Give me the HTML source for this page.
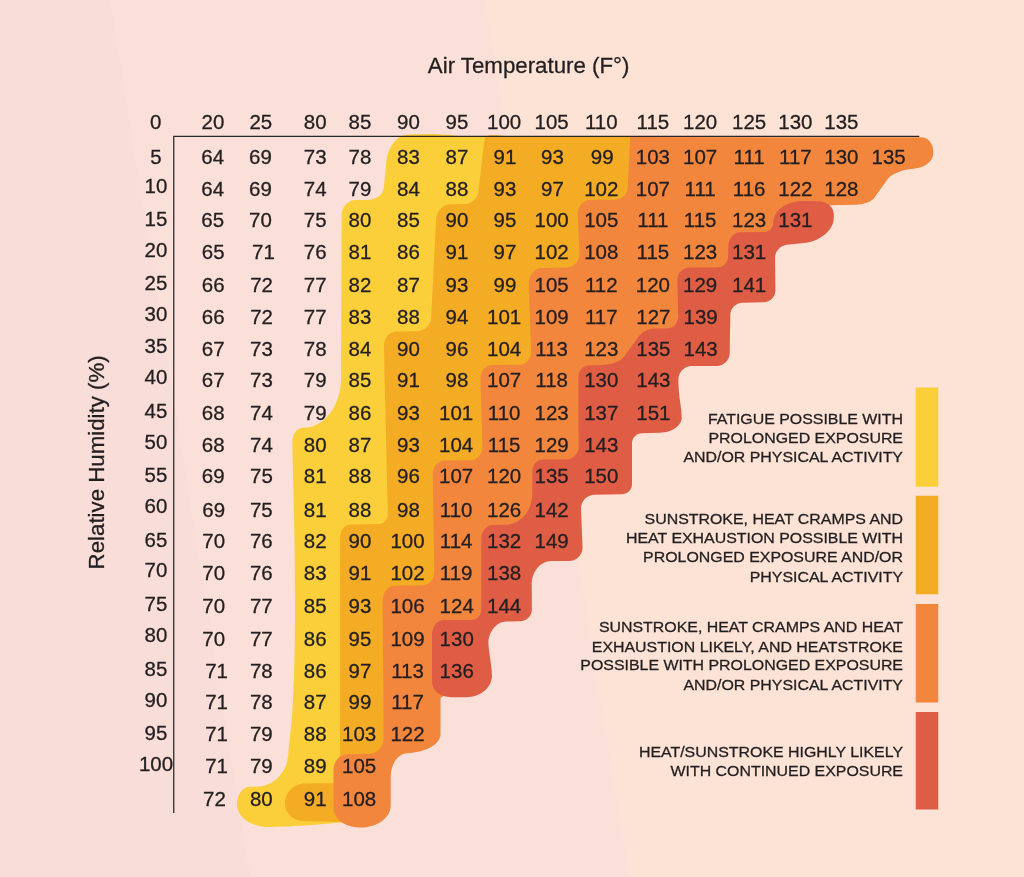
<!DOCTYPE html>
<html lang="en">
<head>
<meta charset="utf-8">
<title>Heat Index Chart</title>
<style>
html,body{margin:0;padding:0;background:#FBDFD9;}
body{width:1024px;height:877px;overflow:hidden;}
svg{display:block;}
text{font-family:"Liberation Sans",Arial,Helvetica,sans-serif;fill:#231F20;stroke:#231F20;stroke-width:0.3px;}
.n{font-size:20.5px;text-anchor:middle;}
.t{font-size:22.28px;text-anchor:middle;}
.l{font-size:15.92px;text-anchor:end;}
</style>
</head>
<body>
<svg xmlns="http://www.w3.org/2000/svg" width="1024" height="877" viewBox="0 0 1024 877">
<rect width="1024" height="877" fill="#FAE0D9"/><polygon points="0,0 110,0 250,877 0,877" fill="#F9DDD8"/><polygon points="484.8,0 1024,0 1024,877 630,877" fill="#FCE3D6"/>
<path fill="#FBCF3A" d="M500.0 136.6L463.0 136.6L453.9 135.4C447.2 134.6 436.7 134.0 430.0 134.0L426.0 134.1C421.5 134.2 414.5 134.4 410.0 134.6L407.0 134.7C396.9 135.2 387.9 147.0 386.4 161.5L383.8 187.8C383.1 194.4 376.4 199.8 368.6 199.9L355.6 200.1C347.8 200.2 341.6 206.9 341.6 215.3L341.1 377.5C341.1 405.5 324.7 427.6 304.0 427.7L303.0 427.7C296.8 427.8 292.1 434.4 292.3 442.8L294.1 520.0C294.6 542.4 295.0 577.6 295.0 600.0L295.0 620.0C295.0 642.4 294.1 677.6 293.0 700.0L293.0 700.0C292.4 711.2 291.0 728.7 289.7 739.9L289.0 746.0C288.7 748.3 288.4 751.8 288.3 754.0L288.2 754.6C287.3 772.5 273.3 786.7 256.5 786.7L250.0 786.7C242.7 786.8 237.0 794.3 237.0 803.8L237.0 804.2C237.0 817.6 252.0 827.7 271.0 827.0L285.0 826.5C293.4 826.2 306.6 825.4 314.9 824.7L350.0 821.8L350.0 540.0L400.0 540.0L400.0 345.0L450.0 345.0L450.0 220.0L500.0 220.0Z"/>
<path fill="#F4AC25" d="M640.0 136.4L506.0 136.4L502.0 135.7C500.3 135.4 497.7 135.2 496.0 135.2L490.0 135.2C487.2 135.2 484.7 137.4 484.4 140.2L478.4 191.8C477.6 198.5 471.7 203.8 465.0 204.0L449.8 204.3C442.5 204.5 436.5 211.2 436.1 219.6L431.1 318.0C430.8 325.3 424.3 331.1 416.5 331.2L396.5 331.4C389.2 331.5 383.7 338.2 383.9 346.6L387.8 514.0C387.9 519.6 383.6 524.1 378.0 524.1L351.0 524.5C344.8 524.5 340.0 530.3 340.0 537.6L340.0 783.0L305.0 783.4C293.8 783.5 285.0 792.4 285.0 803.6L285.0 804.0C285.0 813.5 293.8 821.1 305.0 821.3L345.0 822.0L345.0 768.0L386.0 768.0L386.0 740.0L395.0 740.0L395.0 600.0L445.0 600.0L445.0 472.0L495.0 472.0L495.0 377.0L540.0 377.0L540.0 283.0L590.0 283.0L590.0 215.0L640.0 215.0Z"/>
<path fill="#F2863D" d="M640.0 137.0L630.3 137.0L627.6 188.5C627.3 194.7 621.7 199.6 615.0 199.7L590.0 200.0C582.7 200.1 577.3 206.8 577.7 215.2L579.4 253.5C579.7 261.3 573.8 267.6 566.0 267.6L542.3 267.9C534.5 267.9 528.5 275.0 528.8 284.0L531.1 351.5C531.3 358.8 526.2 364.6 519.5 364.7L492.0 365.0C485.3 365.1 480.2 371.4 480.4 379.2L482.4 446.0C482.6 453.8 477.5 460.1 470.8 460.2L444.5 460.6C437.8 460.7 432.6 467.0 432.7 474.8L434.3 572.0C434.4 579.3 429.2 585.1 422.5 585.2L394.5 585.8C387.8 585.9 382.6 592.6 382.6 601.0L383.7 737.5C383.7 746.5 377.6 753.6 369.8 753.8L347.4 754.2C339.6 754.4 333.4 761.5 333.4 770.5L333.5 807.6C333.6 818.8 345.0 827.6 359.6 827.5L360.6 827.5C377.4 827.4 390.6 817.7 390.7 805.4L390.7 776.5C390.8 764.2 397.8 753.9 406.7 753.2L410.6 752.9C427.3 751.6 440.5 743.5 440.5 734.5L440.5 698.0L460.0 685.0L460.0 630.0L500.0 610.0L500.0 570.0L550.0 550.0L550.0 500.0L600.0 480.0L600.0 440.0L650.0 420.0L650.0 350.0L700.0 340.0L700.0 280.0L750.0 255.0L750.0 240.0L800.0 225.0L810.0 210.0L830.0 205.2L855.5 204.7C863.3 204.5 871.6 201.5 874.2 197.9L887.7 179.1C890.9 174.6 900.5 170.2 909.4 169.2L915.3 168.5C925.3 167.4 933.2 160.8 933.2 153.5L933.2 151.3C933.2 143.5 927.9 137.3 921.2 137.3Z"/>
<path fill="#E05D45" d="M773.1 222.8C773.3 210.5 786.7 201.0 803.5 201.1L818.0 201.3C827.0 201.4 833.9 207.2 833.8 214.5L833.8 218.0C833.6 230.3 820.4 241.3 803.7 243.1L786.9 244.8C780.3 245.5 775.0 251.3 775.1 258.0L775.4 290.0C775.5 296.7 770.2 302.1 763.5 302.3L742.5 302.7C735.8 302.9 730.4 308.3 730.3 315.0L729.7 353.0C729.6 360.3 723.8 366.0 716.5 366.1L692.0 366.1C684.2 366.2 678.2 372.4 678.4 380.2L678.4 382.0C678.5 386.5 679.0 393.5 679.6 397.9L680.8 407.1C681.4 411.5 681.8 418.5 681.8 423.0L681.8 417.3C681.8 425.7 672.1 432.5 659.8 432.8L642.0 433.3C636.4 433.4 632.0 437.9 632.0 443.5L632.0 484.0C632.0 489.6 627.6 494.1 622.0 494.2L594.5 494.7C586.7 494.9 580.7 501.2 581.0 509.0L582.5 547.0C582.8 554.8 576.8 561.0 569.0 561.1L551.5 561.1C540.3 561.2 531.6 571.8 531.7 585.2L531.9 609.0C532.0 615.7 526.7 621.1 520.0 621.3L506.5 621.6C496.4 621.8 488.4 631.7 488.3 644.0L488.4 639.0C488.3 642.4 488.7 647.6 489.1 650.9L491.2 666.1C491.6 669.4 492.0 674.6 492.0 678.0L492.0 675.3C492.0 687.6 480.6 697.3 466.0 697.2L451.0 697.2C440.4 697.1 432.0 690.5 432.0 682.1L432.0 635.0C432.0 626.6 437.3 620.0 444.0 620.0L471.2 620.0C476.9 620.0 481.2 615.6 481.2 610.0L481.2 539.0C481.2 531.2 486.5 524.9 493.2 524.9L505.0 524.8C520.1 524.6 532.1 511.3 532.2 494.5L532.4 470.5C532.5 464.3 537.3 459.5 543.5 459.5L565.8 459.5C573.0 459.5 578.7 453.8 578.7 446.5L578.3 377.0C578.3 370.3 583.5 365.1 590.2 365.2L597.6 365.3C608.8 365.5 620.2 362.1 623.4 357.6L638.6 336.6C641.8 332.1 648.8 328.5 654.4 328.5L666.5 328.5C673.2 328.5 678.4 323.2 678.2 316.5L677.3 280.5C677.1 273.2 682.7 267.5 690.0 267.5L716.8 267.5C723.0 267.5 727.9 262.7 728.1 256.5L728.4 245.3C728.6 238.0 734.0 232.3 740.7 232.2L764.0 232.1C769.0 232.0 773.1 228.0 773.1 223.0Z"/>
<path d="M173.75 813V136.25H919.3" fill="none" stroke="#2b2728" stroke-width="1.25"/>
<text class="t" x="528.6" y="73.3">Air Temperature (F°)</text>
<text class="t" transform="translate(104 462.4) rotate(-90)">Relative Humidity (%)</text>
<g class="n" transform="scale(1 1.020)">
<text x="155.8" y="126.42">0</text>
<text x="213.0" y="126.42">20</text>
<text x="260.8" y="126.42">25</text>
<text x="315.2" y="126.42">80</text>
<text x="360.0" y="126.42">85</text>
<text x="408.4" y="126.42">90</text>
<text x="457.0" y="126.42">95</text>
<text x="504.1" y="126.42">100</text>
<text x="551.6" y="126.42">105</text>
<text x="601.3" y="126.42">110</text>
<text x="652.9" y="126.42">115</text>
<text x="700.1" y="126.42">120</text>
<text x="749.1" y="126.42">125</text>
<text x="795.4" y="126.42">130</text>
<text x="841.4" y="126.42">135</text>
<text x="156.0" y="160.34">5</text>
<text x="212.7" y="160.34">64</text>
<text x="260.5" y="160.34">69</text>
<text x="315.2" y="160.34">73</text>
<text x="360.0" y="160.34">78</text>
<text x="408.4" y="160.34">83</text>
<text x="457.0" y="160.34">87</text>
<text x="505.0" y="160.34">91</text>
<text x="552.5" y="160.34">93</text>
<text x="602.2" y="160.34">99</text>
<text x="652.9" y="160.34">103</text>
<text x="700.1" y="160.34">107</text>
<text x="749.1" y="160.34">111</text>
<text x="795.4" y="160.34">117</text>
<text x="841.4" y="160.34">130</text>
<text x="888.6" y="160.34">135</text>
<text x="156.0" y="189.51">10</text>
<text x="212.7" y="191.96">64</text>
<text x="260.5" y="191.96">69</text>
<text x="315.2" y="191.96">74</text>
<text x="360.0" y="191.96">79</text>
<text x="408.4" y="191.96">84</text>
<text x="457.0" y="191.96">88</text>
<text x="505.0" y="191.96">93</text>
<text x="552.5" y="191.96">97</text>
<text x="601.3" y="191.96">102</text>
<text x="652.9" y="191.96">107</text>
<text x="700.1" y="191.96">111</text>
<text x="749.1" y="191.96">116</text>
<text x="795.4" y="191.96">122</text>
<text x="841.4" y="191.96">128</text>
<text x="156.0" y="221.86">15</text>
<text x="212.7" y="222.16">65</text>
<text x="260.5" y="222.16">70</text>
<text x="315.2" y="222.16">75</text>
<text x="360.0" y="222.16">80</text>
<text x="408.4" y="222.16">85</text>
<text x="457.0" y="222.16">90</text>
<text x="505.0" y="222.16">95</text>
<text x="551.6" y="222.16">100</text>
<text x="601.3" y="222.16">105</text>
<text x="652.9" y="222.16">111</text>
<text x="700.1" y="222.16">115</text>
<text x="749.1" y="222.16">123</text>
<text x="795.4" y="222.16">131</text>
<text x="156.0" y="252.01">20</text>
<text x="213.2" y="253.82">65</text>
<text x="263.4" y="253.82">71</text>
<text x="315.2" y="253.82">76</text>
<text x="360.0" y="253.82">81</text>
<text x="408.4" y="253.82">86</text>
<text x="457.0" y="253.82">91</text>
<text x="505.0" y="253.82">97</text>
<text x="551.6" y="253.82">102</text>
<text x="601.3" y="253.82">108</text>
<text x="652.9" y="253.82">115</text>
<text x="700.1" y="253.82">123</text>
<text x="749.1" y="253.82">131</text>
<text x="156.0" y="284.71">25</text>
<text x="213.2" y="285.83">66</text>
<text x="261.6" y="285.83">72</text>
<text x="315.2" y="285.83">77</text>
<text x="360.0" y="285.83">82</text>
<text x="408.4" y="285.83">87</text>
<text x="457.0" y="285.83">93</text>
<text x="505.0" y="285.83">99</text>
<text x="551.6" y="285.83">105</text>
<text x="601.3" y="285.83">112</text>
<text x="652.9" y="285.83">120</text>
<text x="700.1" y="285.83">129</text>
<text x="749.1" y="285.83">141</text>
<text x="156.0" y="314.51">30</text>
<text x="213.2" y="317.45">66</text>
<text x="261.6" y="317.45">72</text>
<text x="315.2" y="317.45">77</text>
<text x="360.0" y="317.45">83</text>
<text x="408.4" y="317.45">88</text>
<text x="457.0" y="317.45">94</text>
<text x="504.1" y="317.45">101</text>
<text x="551.6" y="317.45">109</text>
<text x="601.3" y="317.45">117</text>
<text x="653.4" y="317.45">127</text>
<text x="700.6" y="317.45">139</text>
<text x="156.0" y="345.88">35</text>
<text x="213.2" y="349.31">67</text>
<text x="261.5" y="349.31">73</text>
<text x="315.2" y="349.31">78</text>
<text x="360.0" y="349.31">84</text>
<text x="408.4" y="349.31">90</text>
<text x="457.0" y="349.31">96</text>
<text x="504.1" y="349.31">104</text>
<text x="551.6" y="349.31">113</text>
<text x="601.3" y="349.31">123</text>
<text x="653.4" y="349.31">135</text>
<text x="700.6" y="349.31">143</text>
<text x="156.0" y="376.37">40</text>
<text x="213.2" y="379.51">67</text>
<text x="261.5" y="379.51">73</text>
<text x="315.2" y="379.51">79</text>
<text x="360.0" y="379.51">85</text>
<text x="408.4" y="379.51">91</text>
<text x="457.0" y="379.51">98</text>
<text x="504.1" y="379.51">107</text>
<text x="551.6" y="379.51">118</text>
<text x="601.3" y="379.51">130</text>
<text x="653.4" y="379.51">143</text>
<text x="156.0" y="409.75">45</text>
<text x="213.2" y="412.01">68</text>
<text x="261.5" y="412.01">74</text>
<text x="315.2" y="412.01">79</text>
<text x="360.0" y="412.01">86</text>
<text x="408.4" y="412.01">93</text>
<text x="456.1" y="412.01">101</text>
<text x="504.1" y="412.01">110</text>
<text x="551.6" y="412.01">123</text>
<text x="601.3" y="412.01">137</text>
<text x="653.4" y="412.01">151</text>
<text x="156.0" y="440.25">50</text>
<text x="213.2" y="442.70">68</text>
<text x="261.5" y="442.70">74</text>
<text x="315.2" y="442.70">80</text>
<text x="360.0" y="442.70">87</text>
<text x="408.4" y="442.70">93</text>
<text x="456.1" y="442.70">104</text>
<text x="504.1" y="442.70">115</text>
<text x="551.6" y="442.70">129</text>
<text x="601.3" y="442.70">143</text>
<text x="156.0" y="472.60">55</text>
<text x="213.2" y="473.33">69</text>
<text x="261.5" y="473.33">75</text>
<text x="315.2" y="473.33">81</text>
<text x="360.0" y="473.33">88</text>
<text x="408.4" y="473.33">96</text>
<text x="456.1" y="473.33">107</text>
<text x="504.1" y="473.33">120</text>
<text x="551.6" y="473.33">135</text>
<text x="601.3" y="473.33">150</text>
<text x="156.0" y="503.38">60</text>
<text x="213.7" y="506.72">69</text>
<text x="261.3" y="506.72">75</text>
<text x="315.2" y="506.72">81</text>
<text x="360.0" y="506.72">88</text>
<text x="408.4" y="506.72">98</text>
<text x="456.1" y="506.72">110</text>
<text x="504.1" y="506.72">126</text>
<text x="551.6" y="506.72">142</text>
<text x="156.0" y="536.03">65</text>
<text x="213.7" y="537.35">70</text>
<text x="261.3" y="537.35">76</text>
<text x="315.2" y="537.35">82</text>
<text x="360.0" y="537.35">90</text>
<text x="407.5" y="537.35">100</text>
<text x="456.1" y="537.35">114</text>
<text x="504.1" y="537.35">132</text>
<text x="551.6" y="537.35">149</text>
<text x="156.0" y="565.93">70</text>
<text x="213.7" y="568.48">70</text>
<text x="261.3" y="568.48">76</text>
<text x="315.2" y="568.48">83</text>
<text x="360.0" y="568.48">91</text>
<text x="407.5" y="568.48">102</text>
<text x="456.1" y="568.48">119</text>
<text x="504.1" y="568.48">138</text>
<text x="156.0" y="598.63">75</text>
<text x="213.7" y="601.08">70</text>
<text x="261.3" y="601.08">77</text>
<text x="315.2" y="601.08">85</text>
<text x="360.0" y="601.08">93</text>
<text x="407.5" y="601.08">106</text>
<text x="456.7" y="601.08">124</text>
<text x="504.1" y="601.08">144</text>
<text x="156.0" y="629.12">80</text>
<text x="213.7" y="633.19">70</text>
<text x="261.3" y="633.19">77</text>
<text x="315.2" y="633.19">86</text>
<text x="360.0" y="633.19">95</text>
<text x="407.5" y="633.19">109</text>
<text x="456.7" y="633.19">130</text>
<text x="156.0" y="663.09">85</text>
<text x="216.6" y="664.56">71</text>
<text x="261.3" y="664.56">78</text>
<text x="315.2" y="664.56">86</text>
<text x="360.0" y="664.56">97</text>
<text x="407.5" y="664.56">113</text>
<text x="456.7" y="664.56">136</text>
<text x="156.0" y="692.70">90</text>
<text x="216.6" y="695.54">71</text>
<text x="261.3" y="695.54">78</text>
<text x="315.2" y="695.54">87</text>
<text x="360.0" y="695.54">99</text>
<text x="407.5" y="695.54">117</text>
<text x="156.0" y="725.54">95</text>
<text x="216.6" y="726.27">71</text>
<text x="261.3" y="726.27">79</text>
<text x="315.2" y="726.27">88</text>
<text x="359.1" y="726.27">103</text>
<text x="407.5" y="726.27">122</text>
<text x="156.0" y="755.44">100</text>
<text x="216.6" y="758.14">71</text>
<text x="261.3" y="758.14">79</text>
<text x="315.2" y="758.14">89</text>
<text x="359.1" y="758.14">105</text>
<text x="214.5" y="790.49">72</text>
<text x="261.3" y="790.49">80</text>
<text x="315.2" y="790.49">91</text>
<text x="359.1" y="790.49">108</text>
</g>
<rect x="915.75" y="387.50" width="22.5" height="99.25" fill="#FBCF3A"/>
<rect x="915.75" y="495.75" width="22.5" height="98.50" fill="#F4AC25"/>
<rect x="915.75" y="604.00" width="22.5" height="98.50" fill="#F2863D"/>
<rect x="915.75" y="712.00" width="22.5" height="97.50" fill="#E05D45"/>
<g class="l" transform="scale(1 0.950)">
<text x="903" y="446.11">FATIGUE POSSIBLE WITH</text>
<text x="903" y="466.37">PROLONGED EXPOSURE</text>
<text x="903" y="486.63">AND/OR PHYSICAL ACTIVITY</text>
<text x="903" y="551.63">SUNSTROKE, HEAT CRAMPS AND</text>
<text x="903" y="571.63">HEAT EXHAUSTION POSSIBLE WITH</text>
<text x="903" y="591.89">PROLONGED EXPOSURE AND/OR</text>
<text x="903" y="612.16">PHYSICAL ACTIVITY</text>
<text x="903" y="665.58">SUNSTROKE, HEAT CRAMPS AND HEAT</text>
<text x="903" y="685.84">EXHAUSTION LIKELY, AND HEATSTROKE</text>
<text x="903" y="705.58">POSSIBLE WITH PROLONGED EXPOSURE</text>
<text x="903" y="725.84">AND/OR PHYSICAL ACTIVITY</text>
<text x="903" y="796.63">HEAT/SUNSTROKE HIGHLY LIKELY</text>
<text x="903" y="816.89">WITH CONTINUED EXPOSURE</text>
</g>
</svg>
</body>
</html>
